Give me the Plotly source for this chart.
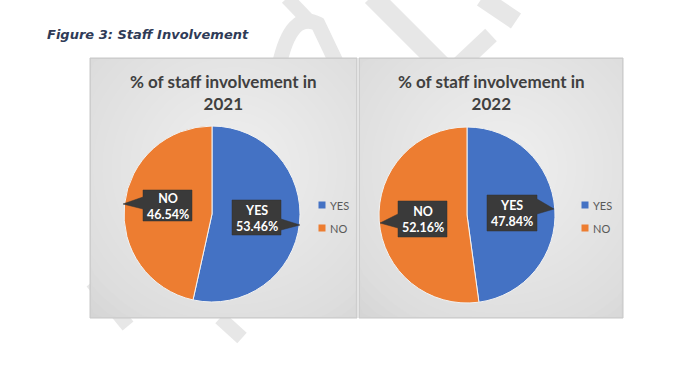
import numpy as np
import plotly.graph_objects as go

# ---------------- data ----------------
labels = ["YES", "NO"]
years = ["2021", "2022"]
values_2021 = [53.46, 46.54]
values_2022 = [47.84, 52.16]
colors = ["#4472C4", "#ED7D31"]
figure_title = "Figure 3: Staff Involvement"
chart_title = "% of staff involvement in"

W, H = 681, 365
fig = go.Figure()

# ---------------- layout constants ----------------
panels = [(90, 357, 58, 318), (359, 623, 58, 318)]          # x0, x1, y0, y1 (px)
pie_boxes = [(124, 300, 126, 302), (379, 555, 127, 303)]     # pie extents (px)
title_x = [223.5, 491]
legend_x = [322, 585]
legend_y = [205, 228]
# callout boxes: (x0, x1, y0, y1), pointer (side, ya, tip_x, tip_y, yb)
callouts = [
    [((232, 281, 200, 235), ("r", 219, 300, 225, 230)),   # 2021 YES
     ((143, 192, 190, 221), ("l", 197, 123, 204, 209))],  # 2021 NO
    [((487, 537, 195, 231), ("r", 199, 554, 209, 214)),   # 2022 YES
     ((398, 447, 201, 237), ("l", 214, 380, 223, 228))],  # 2022 NO
]

# ---------------- watermark (faint, behind panels) ----------------
wm = "#e7e7e7"
wm_paths = [
    ("M 279,66 Q 291,10 318,24 L 338,66", 15),
    ("M 287,-2 L 312,24", 14),
    ("M 372,-4 L 442,66", 20),
    ("M 482,-2 L 516,21", 18),
    ("M 491,35 L 458,66", 17),
    ("M 92,282 L 128,326", 14),
    ("M 220,318 L 242,338", 14),
]
shapes = []
for p, w in wm_paths:
    shapes.append(dict(type="path", path=p, xref="x", yref="y", layer="below",
                       line=dict(color=wm, width=w)))

# ---------------- panels with radial-ish gradient ----------------
for (x0, x1, y0, y1) in panels:
    fig.add_trace(go.Scatter(x=[x0, x1, x1, x0, x0], y=[y0, y0, y1, y1, y0],
                             mode="lines", fill="toself", fillcolor="#d3d3d3",
                             line=dict(color="#c8c8c8", width=1),
                             hoverinfo="skip", showlegend=False))
    cx, cy = (x0 + x1) / 2 + 10, (y0 + y1) / 2 - 20
    t = np.linspace(0, 2 * np.pi, 120)
    for k in np.linspace(1.0, 0.1, 22):
        ex = np.clip(cx + k * (x1 - x0) * 0.8 * np.cos(t), x0 + 1, x1 - 1)
        ey = np.clip(cy + k * (y1 - y0) * 0.8 * np.sin(t), y0 + 1, y1 - 1)
        fig.add_trace(go.Scatter(x=ex, y=ey, mode="lines", fill="toself",
                                 fillcolor="rgba(255,255,255,0.055)",
                                 line=dict(width=0), hoverinfo="skip",
                                 showlegend=False))

# ---------------- pies ----------------
for i, vals in enumerate([values_2021, values_2022]):
    px0, px1, py0, py1 = pie_boxes[i]
    fig.add_trace(go.Pie(
        labels=labels, values=vals, sort=False, direction="clockwise",
        rotation=0, textinfo="none", hole=0,
        marker=dict(colors=colors, line=dict(color="#f2f2f2", width=1)),
        domain=dict(x=[px0 / W, px1 / W], y=[1 - py1 / H, 1 - py0 / H]),
        name=years[i], showlegend=False,
        hovertemplate="%{label}: %{value:.2f}%<extra></extra>"))

annotations = []
annotations.append(dict(x=45, y=34, xref="x", yref="y", xanchor="left",
                        yanchor="middle", showarrow=False,
                        text="<b><i>" + figure_title + "</i></b>",
                        font=dict(family="DejaVu Sans", size=13, color="#2F3B57")))

for i, vals in enumerate([values_2021, values_2022]):
    # chart title
    annotations.append(dict(x=title_x[i], y=92, xref="x", yref="y",
                            xanchor="center", yanchor="middle", showarrow=False,
                            text="<b>" + chart_title + "<br>" + years[i] + "</b>",
                            font=dict(family="Lato", size=17, color="#404040")))
    # legend
    for j, lab in enumerate(labels):
        ly = legend_y[j]
        lx = legend_x[i]
        shapes.append(dict(type="rect", xref="x", yref="y", x0=lx - 3.5, x1=lx + 3.5,
                           y0=ly - 3.5, y1=ly + 3.5, fillcolor=colors[j],
                           line=dict(width=0), layer="above"))
        annotations.append(dict(x=lx + 6, y=ly, xref="x", yref="y",
                                xanchor="left", yanchor="middle", showarrow=False,
                                text=lab, font=dict(family="Lato", size=11,
                                                    color="#595959")))
    # data-label callouts
    for j, lab in enumerate(labels):
        (bx0, bx1, by0, by1), (side, ya, tx, ty, yb) = callouts[i][j]
        if side == "r":
            path = (f"M {bx0},{by0} L {bx1},{by0} L {bx1},{ya} L {tx},{ty} "
                    f"L {bx1},{yb} L {bx1},{by1} L {bx0},{by1} Z")
        else:
            path = (f"M {bx0},{by0} L {bx1},{by0} L {bx1},{by1} L {bx0},{by1} "
                    f"L {bx0},{yb} L {tx},{ty} L {bx0},{ya} Z")
        shapes.append(dict(type="path", path=path, xref="x", yref="y",
                           fillcolor="#3a3a3a", line=dict(color="#333333", width=0.5),
                           layer="above"))
        annotations.append(dict(x=(bx0 + bx1) / 2, y=(by0 + by1) / 2 + 0.5,
                                xref="x", yref="y", xanchor="center",
                                yanchor="middle", showarrow=False,
                                text=f"<b>{lab}<br>{vals[j]:.2f}%</b>",
                                font=dict(family="Lato", size=12.5, color="white")))

fig.update_layout(
    width=W, height=H, margin=dict(l=0, r=0, t=0, b=0),
    paper_bgcolor="white", plot_bgcolor="rgba(0,0,0,0)",
    xaxis=dict(range=[0, W], visible=False, fixedrange=True),
    yaxis=dict(range=[H, 0], visible=False, fixedrange=True),
    shapes=shapes, annotations=annotations, showlegend=False,
)

fig.write_html("out.html", config={"displayModeBar": False},
               post_script="document.body.style.margin='0';")
